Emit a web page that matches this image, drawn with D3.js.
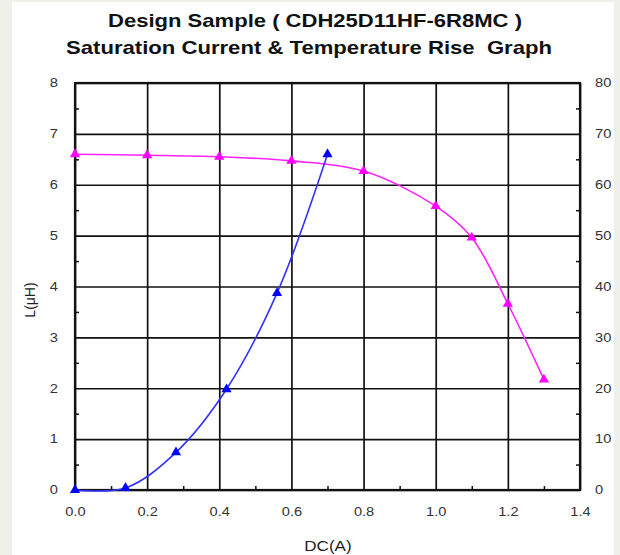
<!DOCTYPE html>
<html><head><meta charset="utf-8">
<script src="https://cdn.jsdelivr.net/npm/d3@7/dist/d3.min.js"></script>
<style>
html,body{margin:0;padding:0;background:#eff0ea;}
svg{display:block;font-family:"Liberation Sans",Arial,sans-serif;}
text{white-space:pre;}
</style></head>
<body>
<svg id="chart" width="620" height="555"></svg>
<script>
// ---- data ----
const titleLines = ["Design Sample ( CDH25D11HF-6R8MC )", "Saturation Current & Temperature Rise  Graph"];
const inductanceX = [0, 0.2, 0.4, 0.6, 0.8, 1.0, 1.1, 1.2, 1.3];
const inductanceL = [6.6, 6.58, 6.55, 6.47, 6.27, 5.58, 4.96, 3.66, 2.17];
const tempX = [0, 0.14, 0.28, 0.42, 0.56, 0.70];
const tempRise = [0, 0.4, 7.4, 19.8, 38.7, 66];
const xTicks = [0, 0.2, 0.4, 0.6, 0.8, 1.0, 1.2, 1.4];
const leftTicks = [0, 1, 2, 3, 4, 5, 6, 7, 8];
const rightTicks = [0, 10, 20, 30, 40, 50, 60, 70, 80];
const xLabel = "DC(A)";
const yLabel = "L(μH)";

const svg = d3.select("#chart");
svg.append("rect").attr("x", 12).attr("y", 2).attr("width", 602).attr("height", 553).attr("fill", "#fff");

const x = d3.scaleLinear().domain([0, 1.4]).range([75, 580]);
const yL = d3.scaleLinear().domain([0, 8]).range([490, 83]);
const yR = d3.scaleLinear().domain([0, 80]).range([490, 83]);
const W = 580 - 75, H = 490 - 83;

// stretch helper: widen text horizontally like the reference
function stretch(sel, k) {
  sel.each(function () {
    const w = this.getComputedTextLength();
    if (w > 0) d3.select(this).attr("textLength", w * k).attr("lengthAdjust", "spacingAndGlyphs");
  });
}

// title
const titleW = [414, 486];
svg.selectAll("text.title").data(titleLines).enter().append("text")
  .attr("class", "title")
  .attr("x", (d, i) => i === 0 ? 315 : 309)
  .attr("y", (d, i) => i === 0 ? 27 : 54)
  .attr("text-anchor", "middle")
  .attr("font-weight", "bold")
  .attr("font-size", 19)
  .attr("fill", "#111")
  .attr("textLength", (d, i) => titleW[i])
  .attr("lengthAdjust", "spacingAndGlyphs")
  .text(d => d);

// gridlines
const gx = svg.append("g").attr("transform", `translate(0,490)`)
  .call(d3.axisBottom(x).tickValues(xTicks).tickSize(-H).tickFormat(""));
gx.select(".domain").remove();
gx.selectAll("line").attr("stroke", "#111").attr("stroke-width", 1.7);

const gy = svg.append("g").attr("transform", `translate(75,0)`)
  .call(d3.axisLeft(yL).tickValues(leftTicks).tickSize(-W).tickFormat(""));
gy.select(".domain").remove();
gy.selectAll("line").attr("stroke", "#111").attr("stroke-width", 1.7);

// minor ticks
const minorX = d3.range(0.1, 1.4, 0.2);
const mx = svg.append("g").attr("transform", `translate(0,490)`)
  .call(d3.axisBottom(x).tickValues(minorX).tickSize(-4).tickFormat(""));
mx.select(".domain").remove();
mx.selectAll("line").attr("stroke", "#111").attr("stroke-width", 1.5);
const minorL = d3.range(0.5, 8, 1);
const ml = svg.append("g").attr("transform", `translate(75,0)`)
  .call(d3.axisLeft(yL).tickValues(minorL).tickSize(-4).tickFormat(""));
ml.select(".domain").remove();
ml.selectAll("line").attr("stroke", "#111").attr("stroke-width", 1.5);
const mr = svg.append("g").attr("transform", `translate(580,0)`)
  .call(d3.axisRight(yR).tickValues(minorL.map(v => v * 10)).tickSize(-4).tickFormat(""));
mr.select(".domain").remove();
mr.selectAll("line").attr("stroke", "#111").attr("stroke-width", 1.5);

// frame
svg.append("rect").attr("x", 75).attr("y", 83).attr("width", W).attr("height", H)
  .attr("fill", "none").attr("stroke", "#111").attr("stroke-width", 2.2);

// tick labels
const lblStyle = g => {
  g.select(".domain").remove();
  g.selectAll("line").remove();
  g.selectAll("text").attr("font-size", 12).attr("fill", "#333")
    .attr("font-family", "'Liberation Sans',Arial,sans-serif")
    .call(stretch, 1.22);
};
svg.append("g").attr("transform", `translate(0,490)`)
  .call(d3.axisBottom(x).tickValues(xTicks).tickSize(0).tickPadding(17).tickFormat(d3.format(".1f")))
  .call(lblStyle);
svg.append("g").attr("transform", `translate(75,0)`)
  .call(d3.axisLeft(yL).tickValues(leftTicks).tickSize(0).tickPadding(17).tickFormat(d3.format("d")))
  .call(lblStyle);
svg.append("g").attr("transform", `translate(580,0)`)
  .call(d3.axisRight(yR).tickValues(rightTicks).tickSize(0).tickPadding(15).tickFormat(d3.format("d")))
  .call(lblStyle);

// axis titles
svg.append("text").attr("x", 328).attr("y", 551).attr("text-anchor", "middle")
  .attr("font-size", 14).attr("fill", "#222").text(xLabel).call(stretch, 1.22);
svg.append("text").attr("transform", "translate(35,300) rotate(-90)").attr("text-anchor", "middle")
  .attr("font-size", 14).attr("fill", "#222").text(yLabel);

// series
const lData = inductanceX.map((v, i) => [v, inductanceL[i]]);
const tData = tempX.map((v, i) => [v, tempRise[i]]);
svg.append("path").datum(lData)
  .attr("d", d3.line().x(d => x(d[0])).y(d => yL(d[1])).curve(d3.curveCatmullRom.alpha(0.5)))
  .attr("fill", "none").attr("stroke", "#ff22ff").attr("stroke-width", 1.6);
svg.append("path").datum(tData)
  .attr("d", d3.line().x(d => x(d[0])).y(d => yR(d[1])).curve(d3.curveCatmullRom.alpha(0.5)))
  .attr("fill", "none").attr("stroke", "#3333ff").attr("stroke-width", 1.6);

const tri = d3.symbol().type(d3.symbolTriangle).size(45);
svg.selectAll("path.lm").data(lData).enter().append("path").attr("class", "lm")
  .attr("transform", d => `translate(${x(d[0])},${yL(d[1])})`)
  .attr("d", tri).attr("fill", "#ff00ff");
svg.selectAll("path.tm").data(tData).enter().append("path").attr("class", "tm")
  .attr("transform", d => `translate(${x(d[0])},${yR(d[1])})`)
  .attr("d", tri).attr("fill", "#0000ff");
</script>
</body></html>
